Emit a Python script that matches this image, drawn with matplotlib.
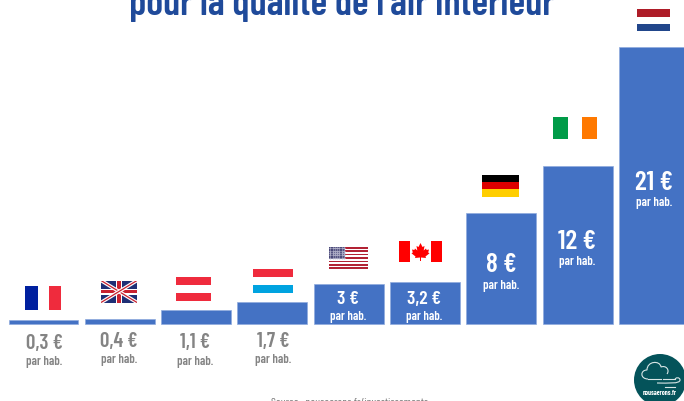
import matplotlib
matplotlib.use("Agg")
import matplotlib.pyplot as plt
from matplotlib.patches import Rectangle, Circle, Polygon, PathPatch
from matplotlib.path import Path

# Valeurs
pays = ["France", "Royaume-Uni", "Autriche", "Luxembourg", "États-Unis", "Canada", "Allemagne", "Irlande", "Pays-Bas"]
montants = ["0,3 €", "0,4 €", "1,1 €", "1,7 €", "3 €", "3,2 €", "8 €", "12 €", "21 €"]
hauteurs = [0.3, 0.4, 1.1, 1.7, 3.0, 3.2, 8.4, 12.0, 21.0]

titre = "pour la qualité de l'air intérieur"
source = "Source : nousaerons.fr/investissements"
logo_txt = "nousaerons.fr"

BLEU = "#4472c4"
GRIS = "#848484"
FONT = ["Barlow Condensed", "Roboto", "DejaVu Sans"]

fig = plt.figure(figsize=(6.84, 4.02), dpi=100)

# Axe des barres
ax = fig.add_axes([0, 0, 1, 1])
ax.set_xlim(-0.57, 8.394)
ax.set_ylim(-5.83, 24.62)
ax.axis("off")
ax.bar(range(len(hauteurs)), hauteurs, width=0.917, color=BLEU, edgecolor="#8fabdd", linewidth=0.5)

# Axe en pixels pour les drapeaux, textes et logo
ov = fig.add_axes([0, 0, 1, 1])
ov.set_xlim(0, 684)
ov.set_ylim(402, 0)
ov.axis("off")
ov.patch.set_alpha(0)


def rect(x0, y0, x1, y1, c):
    r = Rectangle((x0, y0), x1 - x0, y1 - y0, facecolor=c, edgecolor="none")
    ov.add_patch(r)
    return r


# France
rect(25, 287, 37.5, 311, "#00209f")
rect(48.5, 287, 60.5, 311, "#ef2b3d")

# Royaume-Uni
x0, x1, y0, y1 = 101, 137, 281.5, 303.5
fond = rect(x0, y0, x1, y1, "#1f2f75")
for (a, b, c, d) in [(x0, y0, x1, y1), (x0, y1, x1, y0)]:
    l1, = ov.plot([a, c], [b, d], color="white", lw=2.6, solid_capstyle="butt")
    l2, = ov.plot([a, c], [b, d], color="#c8202f", lw=0.9, solid_capstyle="butt")
    l1.set_clip_path(fond)
    l2.set_clip_path(fond)
rect(116, y0, 122, y1, "white")
rect(x0, 289.5, x1, 295.5, "white")
rect(117.3, y0, 120.7, y1, "#c8202f")
rect(x0, 290.8, x1, 294.2, "#c8202f")

# Autriche
rect(175.5, 278, 211, 286, "#ef2b3d")
rect(175.5, 294, 211, 302, "#ef2b3d")

# Luxembourg
rect(253, 270, 293, 278, "#ef2b3d")
rect(253, 286, 293, 294, "#00a3e0")

# États-Unis
x0, x1, y0, y1 = 329, 368, 248, 270
h = (y1 - y0) / 13
for i in range(0, 13, 2):
    rect(x0, y0 + i * h, x1, y0 + (i + 1) * h, "#b22234")
rect(x0, y0, 345, y0 + 7 * h, "#3c3b6e")
for i in range(5):
    for j in range(7):
        ov.plot(x0 + 1.2 + j * 2.3, y0 + 1.2 + i * 2.4, ".", color="#c9c9dc", ms=1.0)

# Canada
rect(399, 241.5, 410, 262.5, "#ff0000")
rect(431, 241.5, 442, 262.5, "#ff0000")
feuille = [(420.5, 244), (422.5, 248), (424.5, 247), (423.7, 251.5), (426, 249.5), (426.6, 251),
           (429, 250.5), (428.2, 253.5), (429.5, 254.3), (425.5, 257.5), (426, 259), (421, 258.5),
           (421, 262), (420, 262), (420, 258.5), (415, 259), (415.5, 257.5), (411.5, 254.3),
           (412.8, 253.5), (412, 250.5), (414.4, 251), (415, 249.5), (417.3, 251.5), (416.5, 247), (418.5, 248)]
ov.add_patch(Polygon(feuille, closed=True, facecolor="#ff0000", edgecolor="none"))

# Allemagne
rect(482, 175.7, 518.5, 183, "#000000")
rect(482, 183, 518.5, 190.4, "#dd0000")
rect(482, 190.4, 518.5, 197.7, "#ffce00")

# Irlande
rect(553, 118, 568, 140, "#009b48")
rect(582, 118, 596.6, 140, "#ff7900")

# Pays-Bas
rect(637, 10, 670, 17.5, "#ae1c28")
rect(637, 25, 670, 32, "#21468b")

# Étiquettes (x, y du montant, y de "par hab.")
pos = [(44, 344, 362), (119, 342, 360), (195, 343, 362), (273, 342, 360), (348, 300, 317),
       (424, 300, 317), (501, 265, 286), (577, 242, 262), (654, 183, 203)]
for i, (x, ym, yp) in enumerate(pos):
    c = GRIS if i < 4 else "white"
    fs = 15 if i < 4 else (14 if i < 6 else 19.5)
    ov.text(x, ym, montants[i], ha="center", va="center", color=c, fontsize=fs,
            fontweight="semibold", family=FONT)
    ov.text(x, yp, "par hab.", ha="center", va="center", color=c, fontsize=9,
            fontweight="semibold", family=FONT)

# Titre coupé par le haut de l'image
ov.text(342, 15, titre, ha="center", va="baseline", color="#1f4a9a", fontsize=28,
        fontweight="semibold", family=FONT)

# Source
ov.text(350, 403, source, ha="center", va="center", color="#777777", fontsize=8.3, family=FONT)

# Logo
ov.add_patch(Circle((660, 381), 26, facecolor="#04535a", edgecolor="none"))
C = Path.CURVE4
nuage = Path([(648, 380), (640, 380), (640, 371), (647, 371), (647, 362), (660, 361), (661, 368),
              (666, 366), (670, 371), (667, 375)],
             [Path.MOVETO, C, C, C, C, C, C, C, C, C])
ov.add_patch(PathPatch(nuage, facecolor="none", edgecolor="#d8e6e6", lw=0.8))
ov.plot([648, 661], [380, 380], color="#d8e6e6", lw=0.8)
vent = Path([(657, 384), (668, 384), (680, 385), (680, 381), (680, 378), (675, 378), (675, 381)],
            [Path.MOVETO, C, C, C, C, C, C])
ov.add_patch(PathPatch(vent, facecolor="none", edgecolor="#d8e6e6", lw=0.8))
ov.plot([663, 675], [380, 380], color="#d8e6e6", lw=0.8)
ov.plot([665, 675], [388, 388], color="#d8e6e6", lw=0.8)
ov.text(660, 393.5, logo_txt, ha="center", va="center", color="white", fontsize=4.8,
        fontweight="bold", family=FONT)

fig.savefig("out.png", dpi=100)
